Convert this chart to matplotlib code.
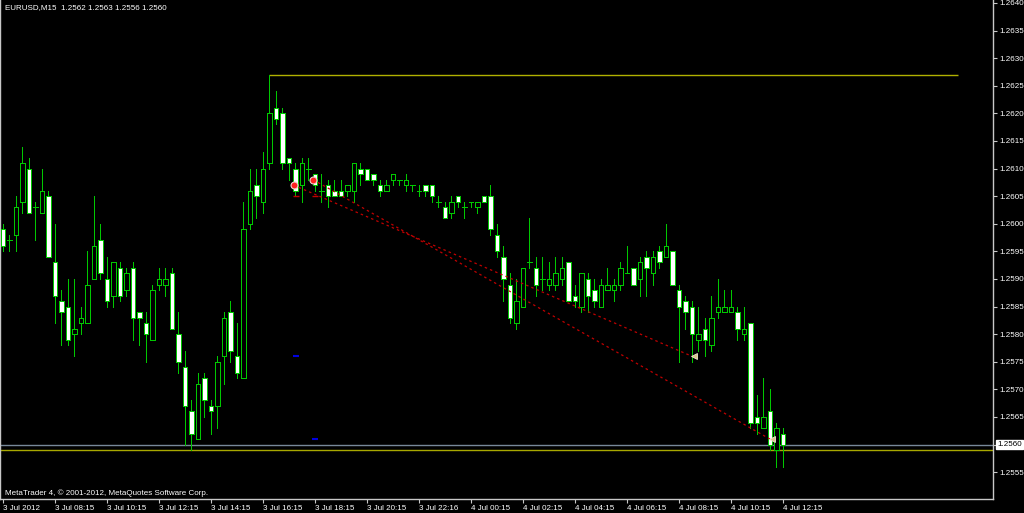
import matplotlib
matplotlib.use("Agg")
import matplotlib.pyplot as plt
from matplotlib.patches import Rectangle

plt.rcParams['font.family'] = ['Liberation Sans', 'DejaVu Sans']

# ---------------- data (EURUSD, M15) ----------------
opens = [1.2599, 1.2597, 1.2598, 1.2604, 1.2610, 1.2603, 1.2602, 1.2605, 1.2593, 1.2586,
         1.2585, 1.2580, 1.2582, 1.2582, 1.2590, 1.2597, 1.2590, 1.2587, 1.2592, 1.2588,
         1.2592, 1.2584, 1.2582, 1.2579, 1.2589, 1.2589, 1.2591, 1.2580, 1.2574, 1.2566,
         1.2561, 1.2572, 1.2567, 1.2567, 1.2576, 1.2584, 1.2576, 1.2572, 1.2600, 1.2607,
         1.2604, 1.2611, 1.2621, 1.2620, 1.2612, 1.2610, 1.2607, 1.2610, 1.2609, 1.2606,
         1.2607, 1.2606, 1.2606, 1.2606, 1.2606, 1.2610, 1.2610, 1.2609, 1.2607, 1.2606,
         1.2608, 1.2608, 1.2607, 1.2607, 1.2606, 1.2607, 1.2607, 1.2604, 1.2603, 1.2602,
         1.2605, 1.2603, 1.2604, 1.2603, 1.2605, 1.2605, 1.2598, 1.2594, 1.2589, 1.2582,
         1.2585, 1.2593, 1.2592, 1.2590, 1.2589, 1.2589, 1.2590, 1.2593, 1.2587, 1.2585,
         1.2590, 1.2588, 1.2585, 1.2588, 1.2588, 1.2589, 1.2591, 1.2592, 1.2590, 1.2594,
         1.2591, 1.2595, 1.2594, 1.2595, 1.2588, 1.2586, 1.2585, 1.2579, 1.2581, 1.2578,
         1.2584, 1.2584, 1.2584, 1.2584, 1.2580, 1.2582, 1.2565, 1.2563, 1.2566, 1.2559,
         1.2562]
highs = [1.2600, 1.2598, 1.2605, 1.2614, 1.2612, 1.2604, 1.2610, 1.2606, 1.2600, 1.2588,
         1.2590, 1.2590, 1.2585, 1.2595, 1.2605, 1.2600, 1.2594, 1.2593, 1.2593, 1.2592,
         1.2593, 1.2584, 1.2584, 1.2589, 1.2592, 1.2592, 1.2592, 1.2584, 1.2577, 1.2568,
         1.2573, 1.2573, 1.2568, 1.2576, 1.2584, 1.2586, 1.2582, 1.2604, 1.2610, 1.2610,
         1.2613, 1.2627, 1.2624, 1.2621, 1.2612, 1.2611, 1.2612, 1.2612, 1.2609, 1.2609,
         1.2608, 1.2608, 1.2608, 1.2607, 1.2611, 1.2611, 1.2610, 1.2609, 1.2608, 1.2608,
         1.2609, 1.2608, 1.2609, 1.2607, 1.2607, 1.2607, 1.2607, 1.2605, 1.2604, 1.2605,
         1.2605, 1.2604, 1.2604, 1.2604, 1.2605, 1.2607, 1.2600, 1.2596, 1.2591, 1.2590,
         1.2592, 1.2601, 1.2594, 1.2594, 1.2593, 1.2594, 1.2594, 1.2593, 1.2589, 1.2591,
         1.2591, 1.2590, 1.2590, 1.2592, 1.2590, 1.2593, 1.2596, 1.2592, 1.2594, 1.2595,
         1.2595, 1.2596, 1.2600, 1.2595, 1.2589, 1.2587, 1.2586, 1.2585, 1.2583, 1.2587,
         1.2590, 1.2588, 1.2588, 1.2585, 1.2585, 1.2582, 1.2569, 1.2572, 1.2570, 1.2564,
         1.2563]
lows = [1.2595, 1.2595, 1.2595, 1.2602, 1.2602, 1.2597, 1.2602, 1.2594, 1.2582, 1.2578,
        1.2578, 1.2576, 1.2580, 1.2582, 1.2590, 1.2590, 1.2585, 1.2585, 1.2586, 1.2587,
        1.2579, 1.2578, 1.2575, 1.2579, 1.2588, 1.2587, 1.2581, 1.2573, 1.2560, 1.2559,
        1.2561, 1.2565, 1.2562, 1.2563, 1.2571, 1.2575, 1.2572, 1.2572, 1.2599, 1.2601,
        1.2602, 1.2610, 1.2618, 1.2610, 1.2608, 1.2605, 1.2604, 1.2608, 1.2606, 1.2604,
        1.2603, 1.2605, 1.2605, 1.2605, 1.2604, 1.2607, 1.2608, 1.2607, 1.2605, 1.2606,
        1.2607, 1.2607, 1.2606, 1.2606, 1.2605, 1.2605, 1.2604, 1.2603, 1.2601, 1.2601,
        1.2603, 1.2601, 1.2603, 1.2602, 1.2604, 1.2598, 1.2594, 1.2586, 1.2582, 1.2581,
        1.2585, 1.2592, 1.2587, 1.2588, 1.2588, 1.2588, 1.2589, 1.2586, 1.2585, 1.2584,
        1.2584, 1.2585, 1.2585, 1.2588, 1.2586, 1.2588, 1.2591, 1.2589, 1.2587, 1.2587,
        1.2589, 1.2592, 1.2594, 1.2589, 1.2575, 1.2581, 1.2575, 1.2577, 1.2576, 1.2577,
        1.2583, 1.2584, 1.2584, 1.2579, 1.2579, 1.2563, 1.2562, 1.2563, 1.2559, 1.2556,
        1.2556]
closes = [1.2596, 1.2597, 1.2603, 1.2611, 1.2602, 1.2603, 1.2606, 1.2594, 1.2587, 1.2584,
          1.2579, 1.2581, 1.2583, 1.2589, 1.2596, 1.2591, 1.2586, 1.2593, 1.2587, 1.2591,
          1.2583, 1.2583, 1.2580, 1.2588, 1.2590, 1.2590, 1.2581, 1.2575, 1.2567, 1.2562,
          1.2571, 1.2568, 1.2566, 1.2575, 1.2583, 1.2577, 1.2573, 1.2599, 1.2606, 1.2605,
          1.2610, 1.2620, 1.2619, 1.2611, 1.2611, 1.2606, 1.2611, 1.2610, 1.2607, 1.2606,
          1.2605, 1.2605, 1.2605, 1.2607, 1.2611, 1.2609, 1.2608, 1.2608, 1.2606, 1.2607,
          1.2609, 1.2608, 1.2608, 1.2607, 1.2606, 1.2606, 1.2605, 1.2604, 1.2601, 1.2604,
          1.2604, 1.2603, 1.2604, 1.2604, 1.2604, 1.2599, 1.2595, 1.2590, 1.2583, 1.2586,
          1.2592, 1.2593, 1.2589, 1.2590, 1.2590, 1.2591, 1.2592, 1.2586, 1.2586, 1.2591,
          1.2587, 1.2586, 1.2589, 1.2589, 1.2589, 1.2592, 1.2591, 1.2589, 1.2593, 1.2592,
          1.2594, 1.2593, 1.2596, 1.2589, 1.2585, 1.2584, 1.2580, 1.2580, 1.2579, 1.2583,
          1.2585, 1.2585, 1.2585, 1.2581, 1.2581, 1.2564, 1.2564, 1.2565, 1.2560, 1.2563,
          1.2560]

time_tick_bars = [0, 8, 16, 24, 32, 40, 48, 56, 64, 72, 80, 88, 96, 104, 112, 120]
time_labels = ["3 Jul 2012", "3 Jul 08:15", "3 Jul 10:15", "3 Jul 12:15", "3 Jul 14:15",
               "3 Jul 16:15", "3 Jul 18:15", "3 Jul 20:15", "3 Jul 22:16", "4 Jul 00:15",
               "4 Jul 02:15", "4 Jul 04:15", "4 Jul 06:15", "4 Jul 08:15", "4 Jul 10:15",
               "4 Jul 12:15"]
price_ticks = [1.2555, 1.2560, 1.2565, 1.2570, 1.2575, 1.2580, 1.2585, 1.2590, 1.2595,
               1.2600, 1.2605, 1.2610, 1.2615, 1.2620, 1.2625, 1.2630, 1.2635, 1.2640]

bid = 1.2560
day_high = 1.2627
day_high_span = [41, 147]
day_low = 1.2559

# trades (sell): open bar/price, close bar/price, TP and SL marks
trade_open_bars = [45, 48]
trade_open_prices = [1.2607, 1.2608]
trade_close_bars = [106, 118]
trade_close_prices = [1.2576, 1.2561]
trade_tp = [1.2576, 1.2561]
trade_sl = [1.2605, 1.2605]

title = "EURUSD,M15  1.2562 1.2563 1.2556 1.2560"
footer = "MetaTrader 4, \u00a9 2001-2012, MetaQuotes Software Corp."

# ---------------- drawing ----------------
GREEN = '#00c800'
FRAME = '#c8c8c8'
FS = 5.8
LW = 0.7

fig = plt.figure(figsize=(10.24, 5.13), dpi=100, facecolor='black')
ax = fig.add_axes([0.0, 14 / 513, 993 / 1024, 499 / 513])
ax.set_facecolor('black')
ax.set_xlim(-0.4615, 152.31)
ax.set_ylim(1.2550145, 1.264054)

w = 0.72
for i, (o, h, l, c) in enumerate(zip(opens, highs, lows, closes)):
    ax.vlines(i, l, h, color=GREEN, lw=LW, zorder=3, antialiased=False)
    if abs(c - o) < 1e-9:
        ax.hlines(o, i - w / 2, i + w / 2, color=GREEN, lw=LW, zorder=4, antialiased=False)
    else:
        face = 'black' if c > o else 'white'
        ax.add_patch(Rectangle((i - w / 2, min(o, c)), w, abs(c - o),
                               facecolor=face, edgecolor=GREEN, lw=LW, zorder=4,
                               antialiased=False))

# daily high / low and bid line
ax.hlines(day_high, day_high_span[0], day_high_span[1], color='#b0b000', lw=1.0, zorder=2)
ax.axhline(day_low, color='#a8a800', lw=1.0, zorder=2)
ax.axhline(bid, color='#778899', lw=1.0, zorder=2)

# trade lines and markers
for ob, op, cb, cp, tp, sl in zip(trade_open_bars, trade_open_prices, trade_close_bars,
                                  trade_close_prices, trade_tp, trade_sl):
    ax.plot([ob - 0.3, cb], [op, cp], color='#c00000', lw=0.9, dashes=(2, 2.5), zorder=5)
    ax.plot(ob - 0.3, op, marker='o', ms=5, mfc='#ff2020', mec='#f0d0d0', mew=0.8, zorder=6)
    ax.plot(cb + 0.3, cp, marker='<', ms=5, mfc='#d8c48a', mec='#f0e8d0', mew=0.6, zorder=6)
    ax.hlines(tp, ob - 0.4, ob + 0.5, color='#0000e0', lw=1.5, zorder=5)
    ax.hlines(sl, ob - 0.4, ob + 0.5, color='#c00000', lw=1.0, zorder=5)

# frame / axes
for s in ['left', 'right', 'bottom']:
    ax.spines[s].set_color(FRAME)
    ax.spines[s].set_linewidth(1.0)
ax.spines['top'].set_visible(False)

ax.yaxis.tick_right()
ax.set_yticks(price_ticks)
ax.set_yticklabels(['' if abs(p - bid) < 1e-9 else f"{p:.4f}" for p in price_ticks])
ax.tick_params(axis='y', length=3, width=0.8, color=FRAME, pad=1.5,
               labelsize=FS, labelcolor='white')
ax.set_xticks(time_tick_bars)
ax.set_xticklabels(time_labels, ha='left')
ax.tick_params(axis='x', length=3, width=0.8, color=FRAME, pad=1,
               labelsize=FS, labelcolor='white')

ax.annotate(f"{bid:.4f}", xy=(1, bid), xycoords=('axes fraction', 'data'),
            xytext=(3.2, 0), textcoords='offset points', ha='left', va='center',
            fontsize=FS, color='black',
            bbox=dict(boxstyle='square,pad=0.15', facecolor='white', edgecolor='white'),
            annotation_clip=False, zorder=10)

fig.text(5 / 1024, 1 - 7.5 / 513, title, color='white', fontsize=FS, ha='left', va='center')
fig.text(5 / 1024, 1 - 493 / 513, footer, color='white', fontsize=FS, ha='left', va='center')

fig.savefig('out.png', dpi=100, facecolor='black')
